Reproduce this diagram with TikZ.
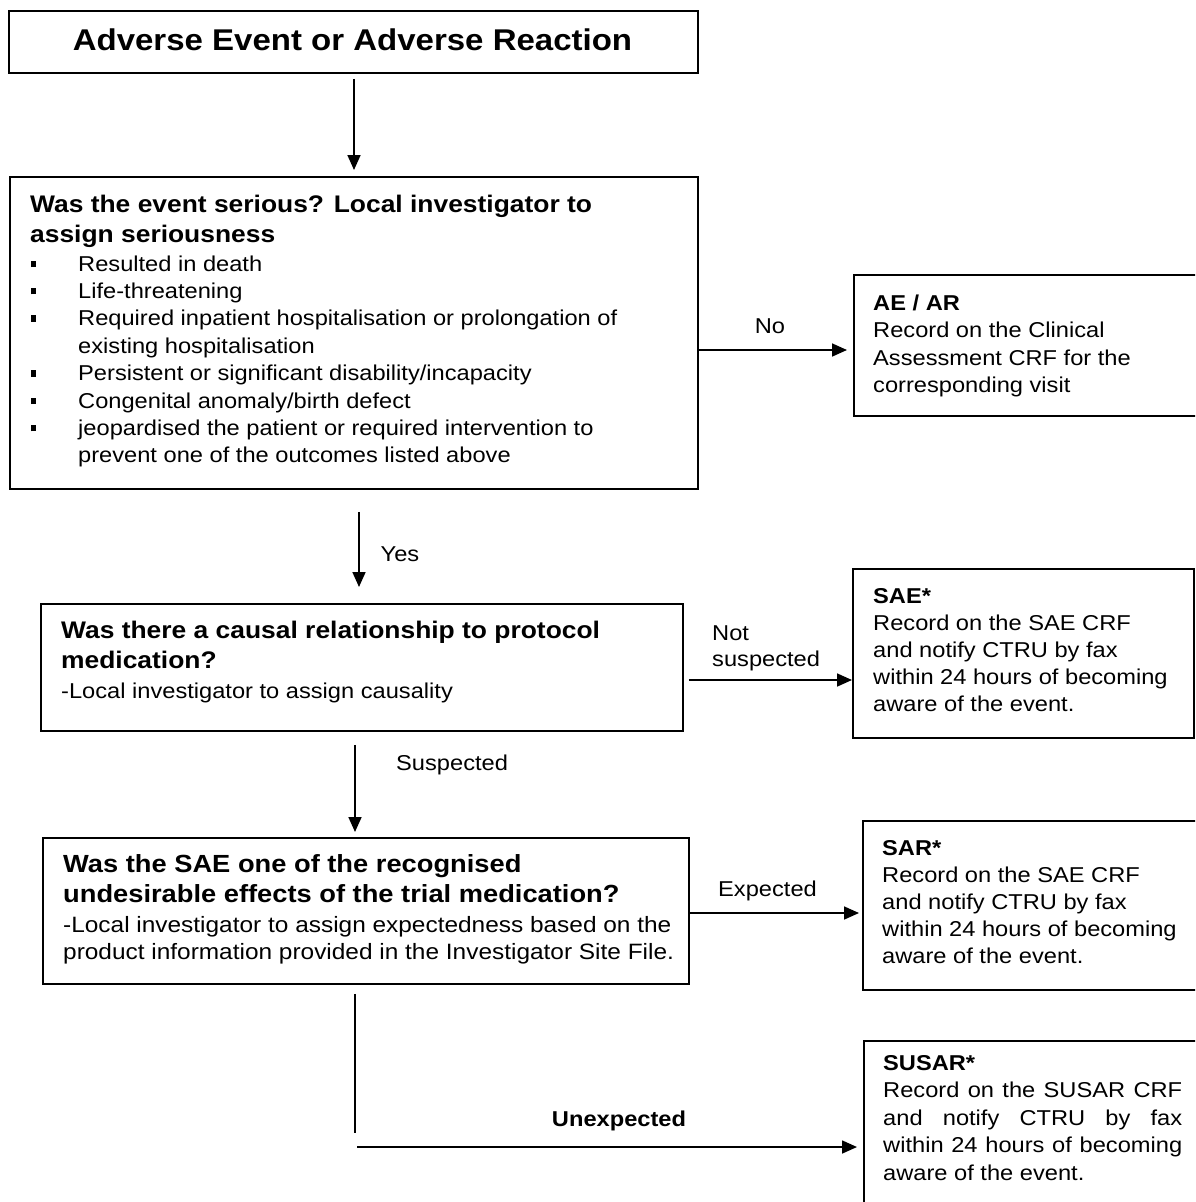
\documentclass[tikz,border=0pt]{standalone}
\usepackage{fontspec}
\setmainfont{Liberation Sans}[FakeStretch=1.1]
\usetikzlibrary{arrows.meta,calc}
\newcommand\fsz[1]{\fontsize{#1}{#1}\selectfont}
\begin{document}
\begin{tikzpicture}[x=1pt,y=-1pt,
  box/.style={draw, line width=1.9pt, rectangle, inner sep=0pt, anchor=north west},
  arr/.style={line width=1.7pt, -{Triangle[length=15pt,width=13pt]}},
  ln/.style={line width=1.7pt},
  txt/.style={anchor=base west, inner sep=0pt, font=\fsz{21.5}},
  btxt/.style={anchor=base west, inner sep=0pt, font=\fsz{24}\bfseries},
  lbl/.style={anchor=base, inner sep=0pt, font=\fsz{21.5}},
  bul/.style={anchor=base west, inner sep=0pt},
]
\useasboundingbox (0,0) rectangle (1195,1202);
\clip (0,0) rectangle (1195,1202);

% boxes
\node[box, minimum width=689pt, minimum height=62pt] (box1) at (8,10) {};
\node[box, minimum width=688pt, minimum height=312pt] (box2) at (9,176) {};
\node[box, minimum width=642pt, minimum height=127pt] (box3) at (40,603) {};
\node[box, minimum width=646pt, minimum height=146pt] (box4) at (42,837) {};
\node[box, minimum width=360pt, minimum height=141pt] (ae) at (853,274) {};
\node[box, minimum width=341pt, minimum height=169pt] (sae) at (852,568) {};
\node[box, minimum width=360pt, minimum height=169pt] (sar) at (862,820) {};
\node[box, minimum width=360pt, minimum height=200pt] (susar) at (863,1040) {};

% box1 text
\node[anchor=base, inner sep=0pt, font=\fsz{30}\bfseries] (t1) at (352.5,50) {Adverse Event or Adverse Reaction};

% box2 text
\node[btxt] (t2a) at (30,212) {Was the event serious? Local investigator to};
\node[btxt] (t2b) at (30,242) {assign seriousness};
\node[bul] (b1) at (31,271) {\rule[4pt]{5pt}{6.5pt}};
\node[txt] (l1) at (78,271) {Resulted in death};
\node[bul] (b2) at (31,298.4) {\rule[4pt]{5pt}{6.5pt}};
\node[txt] (l2) at (78,298.4) {Life-threatening};
\node[bul] (b3) at (31,325.8) {\rule[4pt]{5pt}{6.5pt}};
\node[txt] (l3) at (78,325.8) {Required inpatient hospitalisation or prolongation of};
\node[txt] (l3b) at (78,353.2) {existing hospitalisation};
\node[bul] (b4) at (31,380.6) {\rule[4pt]{5pt}{6.5pt}};
\node[txt] (l4) at (78,380.6) {Persistent or significant disability/incapacity};
\node[bul] (b5) at (31,408) {\rule[4pt]{5pt}{6.5pt}};
\node[txt] (l5) at (78,408) {Congenital anomaly/birth defect};
\node[bul] (b6) at (31,435.4) {\rule[4pt]{5pt}{6.5pt}};
\node[txt] (l6) at (78,435.4) {jeopardised the patient or required intervention to};
\node[txt] (l6b) at (78,462.8) {prevent one of the outcomes listed above};

% box3 text
\node[btxt] (t3a) at (61,638) {Was there a causal relationship to protocol};
\node[btxt] (t3b) at (61,668) {medication?};
\node[txt] (t3c) at (61,698) {-Local investigator to assign causality};

% box4 text
\node[btxt, font=\fsz{24.8}\bfseries] (t4a) at (63,872) {Was the SAE one of the recognised};
\node[btxt, font=\fsz{24.8}\bfseries] (t4b) at (63,902) {undesirable effects of the trial medication?};
\node[txt, font=\fsz{22.2}] (t4c) at (63,932) {-Local investigator to assign expectedness based on the};
\node[txt, font=\fsz{22.2}] (t4d) at (63,959) {product information provided in the Investigator Site File.};

% AE box
\node[txt, font=\fsz{21.5}\bfseries] (ae1) at (873,310) {AE / AR};
\node[txt] (ae2) at (873,337.5) {Record on the Clinical};
\node[txt] (ae3) at (873,365) {Assessment CRF for the};
\node[txt] (ae4) at (873,392.5) {corresponding visit};

% SAE box
\node[txt, font=\fsz{21.5}\bfseries] (sae1) at (873,603) {SAE*};
\node[txt] (sae2) at (873,630.2) {Record on the SAE CRF};
\node[txt] (sae3) at (873,657.4) {and notify CTRU by fax};
\node[txt] (sae4) at (873,684.6) {within 24 hours of becoming};
\node[txt] (sae5) at (873,711.8) {aware of the event.};

% SAR box
\node[txt, font=\fsz{21.5}\bfseries] (sar1) at (882,855) {SAR*};
\node[txt] (sar2) at (882,882) {Record on the SAE CRF};
\node[txt] (sar3) at (882,909) {and notify CTRU by fax};
\node[txt] (sar4) at (882,936) {within 24 hours of becoming};
\node[txt] (sar5) at (882,963) {aware of the event.};

% SUSAR box
\node[txt, font=\fsz{21.5}\bfseries] (su1) at (883,1070) {SUSAR*};
\node[txt] (su2) at (883,1097.5) {\makebox[299pt][s]{Record on the SUSAR CRF}};
\node[txt] (su3) at (883,1125) {\makebox[299pt][s]{and notify CTRU by fax}};
\node[txt] (su4) at (883,1152.5) {\makebox[299pt][s]{within 24 hours of becoming}};
\node[txt] (su5) at (883,1180) {aware of the event.};

% labels
\node[lbl] (lno) at (770,333) {No};
\node[lbl] (lyes) at (400,561) {Yes};
\node[txt] (lnot) at (712,640) {Not};
\node[txt] (lnots) at (712,666) {suspected};
\node[txt] (lsus) at (396,770) {Suspected};
\node[txt] (lexp) at (718,896) {Expected};
\node[lbl, font=\fsz{21.5}\bfseries] (lunex) at (619,1126) {Unexpected};

% helper coordinates
\coordinate (a1x) at (354,0);
\coordinate (yx) at (359,0);
\coordinate (ny) at (0,350);
\coordinate (nsy) at (0,680);
\coordinate (sx) at (355,0);
\coordinate (ey) at (0,913);
\coordinate (uB) at (355,1133);
\coordinate (uC) at (357,1147);

% connectors
\draw[arr, shorten <=5pt, shorten >=6pt] (box1.south -| a1x) -- (box2.north -| a1x);
\draw[arr, shorten <=22pt, shorten >=16pt] (box2.south -| yx) -- (box3.north -| yx);
\draw[arr, shorten >=6pt] (box2.east |- ny) -- (ae.west |- ny);
\draw[arr, shorten <=5pt] (box3.east |- nsy) -- (sae.west |- nsy);
\draw[arr, shorten <=13pt, shorten >=5pt] (box3.south -| sx) -- (box4.north -| sx);
\draw[arr, shorten >=3pt] (box4.east |- ey) -- (sar.west |- ey);
\draw[ln, shorten <=9pt] (box4.south -| sx) -- (uB);
\draw[arr, shorten >=6pt] (uC) -- (susar.west |- uC);
\end{tikzpicture}
\end{document}
